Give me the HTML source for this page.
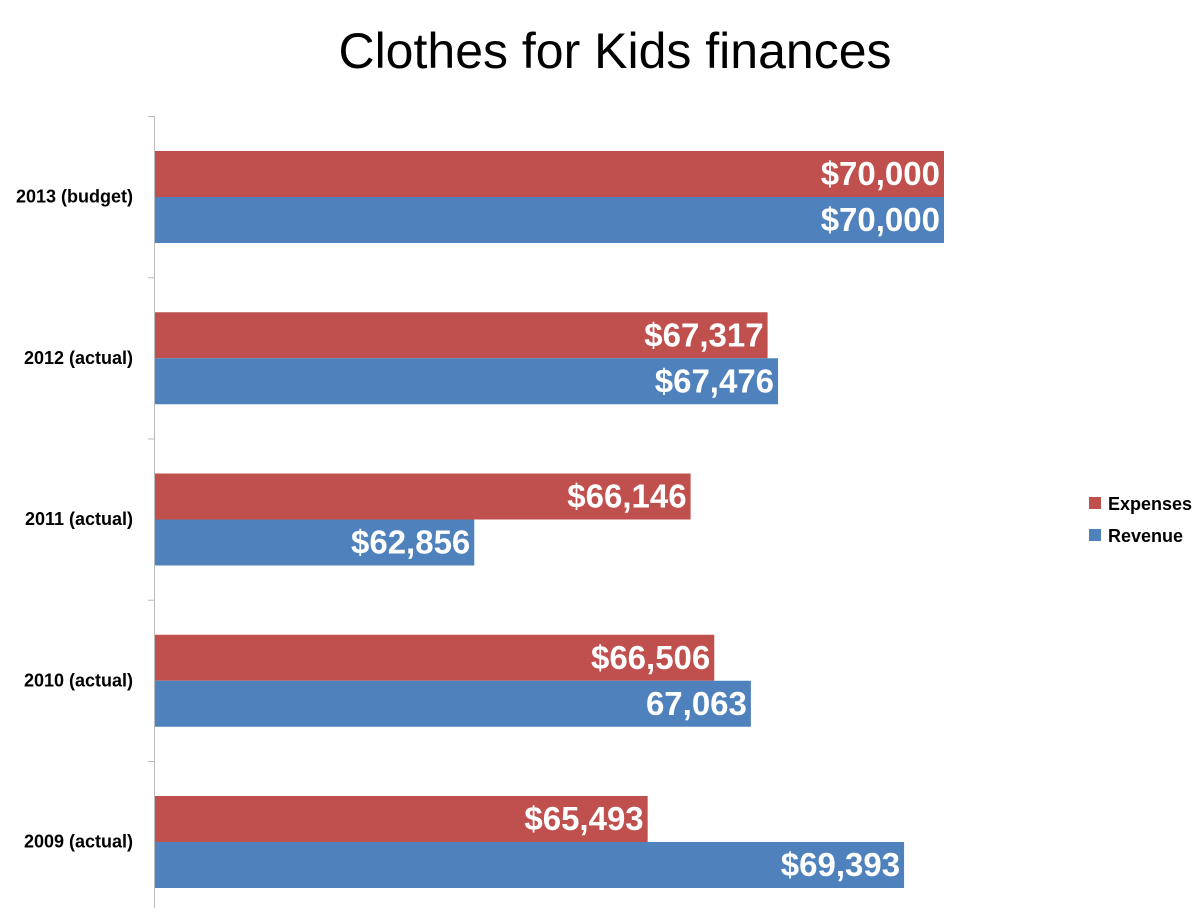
<!DOCTYPE html>
<html><head><meta charset="utf-8"><style>
body{margin:0;background:#fff;width:1200px;height:908px;overflow:hidden;font-family:"Liberation Sans",sans-serif}
</style></head><body>
<svg id="chart" width="1200" height="908" xmlns="http://www.w3.org/2000/svg" font-family="Liberation Sans, sans-serif">
<text x="615" y="68" text-anchor="middle" font-size="50">Clothes for Kids finances</text>
<line x1="154.5" y1="116" x2="154.5" y2="908" stroke="#bbb" stroke-width="1"/>
<g id="bars"></g>
<g>
<rect x="1089" y="497" width="12" height="12" fill="#C0504D"/>
<text x="1108" y="510" font-size="18" font-weight="bold">Expenses</text>
<rect x="1089" y="529" width="12" height="12" fill="#4F81BD"/>
<text x="1108" y="542" font-size="18" font-weight="bold">Revenue</text>
</g>
</svg>
<script>
const categories=["2013 (budget)","2012 (actual)","2011 (actual)","2010 (actual)","2009 (actual)"];
const expenses=[70000,67317,66146,66506,65493];
const revenue=[70000,67476,62856,67063,69393];
const expenseLabels=["$70,000","$67,317","$66,146","$66,506","$65,493"];
const revenueLabels=["$70,000","$67,476","$62,856","67,063","$69,393"];
const xMin=58000, xMax=70000;
const x0=155, x1=944;
function xs(v){return x0+(v-xMin)/(xMax-xMin)*(x1-x0);}
const bandTop=116, band=161.25;
function ys(i){return bandTop+i*band;}
const NS="http://www.w3.org/2000/svg";
const g=document.getElementById('bars');
function mk(tag,attrs){const e=document.createElementNS(NS,tag);for(const k in attrs)e.setAttribute(k,attrs[k]);g.appendChild(e);return e;}
categories.forEach((c,i)=>{
  const top=ys(i);
  const tk=mk('line',{x1:148,x2:155,y1:top+0.5,y2:top+0.5,stroke:'#bbb'});
  
  
  const lb=mk('text',{x:133,y:top+band/2+6,'text-anchor':'end','font-size':18,'font-weight':'bold'});
  lb.textContent=c;
  
  
  [[expenses,expenseLabels,'#C0504D','expenses',35],[revenue,revenueLabels,'#4F81BD','revenue',81]].forEach(([vals,labs,col,nm,off])=>{
    const w=xs(vals[i])-x0;
    const r=mk('rect',{x:x0,y:top+off,width:w,height:46,fill:col});
    
    
    const t=mk('text',{x:x0+w-4,y:top+off+34,'text-anchor':'end','font-size':33,'font-weight':'bold',fill:'#fff'});
    t.textContent=labs[i];
    
    
  });
});
</script>
</body></html>
